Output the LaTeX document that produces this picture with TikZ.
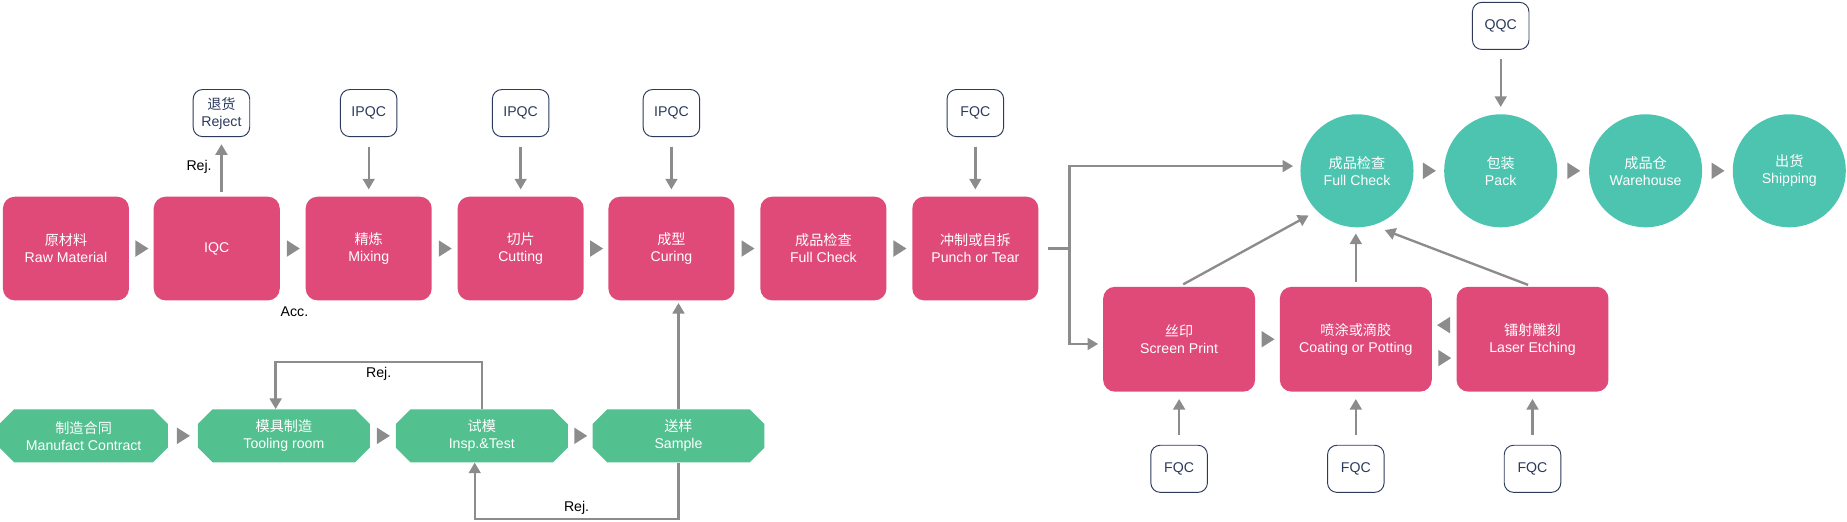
\documentclass[tikz,border=0pt]{standalone}
\usepackage{fontspec}
\setmainfont{Liberation Sans}
\newfontfamily\cjk{Noto Sans CJK SC}
\usetikzlibrary{arrows.meta,shapes.misc,decorations.markings}
\definecolor{pinkbox}{HTML}{E04A78}
\definecolor{greenbox}{HTML}{52C08F}
\definecolor{tealbox}{HTML}{4DC4B0}
\definecolor{navy}{HTML}{2B3A5C}
\definecolor{arrowgray}{HTML}{8C8C8C}
\begin{document}
\begin{tikzpicture}[x=1pt,y=-1pt,>={Triangle[length=9pt,width=10pt]},
  font=\fontsize{12}{14.5}\selectfont,
  step node/.style={rectangle,rounded corners=10pt,fill=pinkbox,text=white,align=center,minimum width=107pt,minimum height=88pt,inner sep=0pt},
  work node/.style={step node,minimum width=129pt,minimum height=89pt},
  mold node/.style={chamfered rectangle,chamfered rectangle xsep=9pt,fill=greenbox,text=white,align=center,minimum width=146pt,minimum height=45pt,inner sep=0pt},
  ship node/.style={circle,fill=tealbox,text=white,align=center,minimum size=96pt,inner sep=0pt},
  qc node/.style={rectangle,rounded corners=8pt,draw=navy,thick,fill=white,text=navy,align=center,minimum width=48pt,minimum height=40pt,inner sep=1pt},
  flow/.style={->,draw=arrowgray,line width=2pt},
  next/.style={decoration={markings,mark=at position 0.5 with {\fill[arrowgray] (-5pt,-7pt)--(6pt,0pt)--(-5pt,7pt)--cycle;}},postaction={decorate}}]
  \useasboundingbox (0,0) rectangle (1568,443);

  % top row
  \node[step node] (raw) at (56,211) {{\cjk 原材料}\\Raw Material};
  \node[step node] (iqc) at (184,211) {IQC};
  \node[step node] (mix) at (313,211) {{\cjk 精炼}\\Mixing};
  \node[step node] (cut) at (442,211) {{\cjk 切片}\\Cutting};
  \node[step node] (cure) at (570,211) {{\cjk 成型}\\Curing};
  \node[step node] (check) at (699,211) {{\cjk 成品检查}\\Full Check};
  \node[step node] (punch) at (828,211) {{\cjk 冲制或自拆}\\Punch or Tear};

  \node[qc node] (reject) at (188,96) {{\cjk 退货}\\Reject};
  \node[qc node] (qc1) at (313,96) {IPQC};
  \node[qc node] (qc2) at (442,96) {IPQC};
  \node[qc node] (qc3) at (570,96) {IPQC};
  \node[qc node] (qc4) at (828,96) {FQC};

  \path[next] (raw) -- (iqc);
  \path[next] (iqc) -- (mix);
  \path[next] (mix) -- (cut);
  \path[next] (cut) -- (cure);
  \path[next] (cure) -- (check);
  \path[next] (check) -- (punch);

  \draw[flow,shorten <=4pt,shorten >=6pt] (iqc.north -| reject) -- node[left,xshift=-4pt] {Rej.} (reject);
  \node at (250,265) {Acc.};
  \foreach \q/\s in {qc1/mix,qc2/cut,qc3/cure,qc4/punch}
    \draw[flow,shorten <=8pt,shorten >=6pt] (\q) -- (\s);

  % mold row
  \node[mold node,minimum width=143pt] (contract) at (71,370) {{\cjk 制造合同}\\Manufact Contract};
  \node[mold node] (tool) at (241,370) {{\cjk 模具制造}\\Tooling room};
  \node[mold node] (test) at (409,370) {{\cjk 试模}\\Insp.\&Test};
  \node[mold node] (sample) at (576,370) {{\cjk 送样}\\Sample};

  \path[next] (contract) -- (tool);
  \path[next] (tool) -- (test);
  \path[next] (test) -- (sample);

  \draw[flow] (test.north) -- ++(0,-40) -| node[pos=0.25,below] {Rej.} ([shift={(-7pt,0)}]tool.north);
  \draw[flow] (sample.south) -- ++(0,48) -| node[pos=0.25,above] {Rej.} ([shift={(-6pt,0)}]test.south);
  \draw[flow,shorten >=2pt] (sample.north) -- (cure.south -| sample);

  % finishing
  \node[ship node] (full) at (1152,145) {{\cjk 成品检查}\\Full Check};
  \node[ship node] (pack) at (1274,145) {{\cjk 包装}\\Pack};
  \node[ship node] (store) at (1397,145) {{\cjk 成品仓}\\Warehouse};
  \node[ship node] (ship) at (1519,145) {{\cjk 出货}\\Shipping};
  \node[qc node] (qqc) at (1274,22) {QQC};

  \path[next] (full) -- (pack);
  \path[next] (pack) -- (store);
  \path[next] (store) -- (ship);
  \draw[flow,shorten <=8pt,shorten >=6pt] (qqc) -- (pack);

  \node[work node] (print) at (1001,288) {{\cjk 丝印}\\Screen Print};
  \node[work node] (coat) at (1151,288) {{\cjk 喷涂或滴胶}\\Coating or Potting};
  \node[work node] (laser) at (1301,288) {{\cjk 镭射雕刻}\\Laser Etching};

  \coordinate (split) at (908,211);
  \draw[arrowgray,line width=2pt,shorten <=8pt] (punch) -- (split);
  \draw[flow,shorten >=6pt] (split) |- (full.west |- 0,141);
  \draw[flow,shorten >=4pt] (split) |- (print.west |- 0,292);

  \path[next] (print) -- (coat);
  \path[next] ([yshift=-16pt]coat.east) -- ([yshift=-16pt]laser.west);
  \path[next] ([yshift=12pt]laser.west) -- ([yshift=12pt]coat.east);

  \draw[flow,shorten <=4pt,shorten >=8pt] (print.north) -- (full.south west);
  \draw[flow,shorten <=4pt,shorten >=5pt] (coat.north) -- (full.south -| coat);
  \draw[flow,shorten <=4pt,shorten >=6pt] (laser.north) -- ([xshift=18pt]full.south);

  \node[qc node] (fqc1) at (1001,398) {FQC};
  \node[qc node] (fqc2) at (1151,398) {FQC};
  \node[qc node] (fqc3) at (1301,398) {FQC};
  \foreach \q/\s in {fqc1/print,fqc2/coat,fqc3/laser}
    \draw[flow,shorten <=8pt,shorten >=6pt] (\q) -- (\s);
\end{tikzpicture}
\end{document}
